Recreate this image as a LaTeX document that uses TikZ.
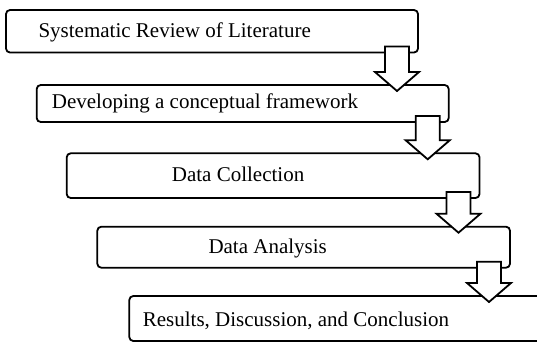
\documentclass[tikz,border=0pt]{standalone}
\usepackage{fontspec}
\setmainfont{Liberation Serif}
\usetikzlibrary{calc}

\tikzset{
  stage/.style={draw, rectangle, line width=1.8pt, rounded corners=4pt,
    anchor=north west, inner sep=0pt, outer sep=0pt},
  caption/.style={anchor=base west, inner sep=0pt,
    font=\fontsize{21}{25}\selectfont},
  hollow/.style={draw, fill=white, line width=1.8pt, line join=miter},
}

% hollow block arrow from the lower right of one stage down into the next
\newcommand\flowarrow[2]{%
  \coordinate (#1top) at ($(#1.south east)+(-21,-6)$);
  \coordinate (#1tip) at ($(#1top |- #2.north)+(0,6)$);
  \draw[hollow] ($(#1top)+(-12,0)$) -- ($(#1top)+(12,0)$)
    -- ($(#1tip)+(12,-19)$) -- ($(#1tip)+(22,-19)$) -- (#1tip)
    -- ($(#1tip)+(-22,-19)$) -- ($(#1tip)+(-12,-19)$) -- cycle;}

\begin{document}
\begin{tikzpicture}[x=1pt,y=-1pt]
\useasboundingbox (0,0) rectangle (537,343);
\clip (0,0) rectangle (537,343);

% stages
\node[stage, minimum width=412pt, minimum height=42.5pt] (b1) at (6,10) {};
\node[stage, minimum width=412pt, minimum height=37pt] (b2) at (36.7,85) {};
\node[stage, minimum width=412.8pt, minimum height=44.7pt] (b3) at (66.7,153.3) {};
\node[stage, minimum width=412.7pt, minimum height=41pt] (b4) at (97.3,226.7) {};
\node[stage, minimum width=412pt, minimum height=45pt] (b5) at (129.3,296) {};

% stage titles
\node[caption] (t1) at (38.3,37.7) {Systematic Review of Literature};
\node[caption] (t2) at (51.7,108.3) {Developing a conceptual framework};
\node[caption] (t3) at (171.7,181.7) {Data Collection};
\node[caption] (t4) at (208.3,253) {Data Analysis};
\node[caption] (t5) at (142.7,326) {Results, Discussion, and Conclusion};

% arrows between consecutive stages
\flowarrow{b1}{b2}
\flowarrow{b2}{b3}
\flowarrow{b3}{b4}
\flowarrow{b4}{b5}
\end{tikzpicture}
\end{document}
